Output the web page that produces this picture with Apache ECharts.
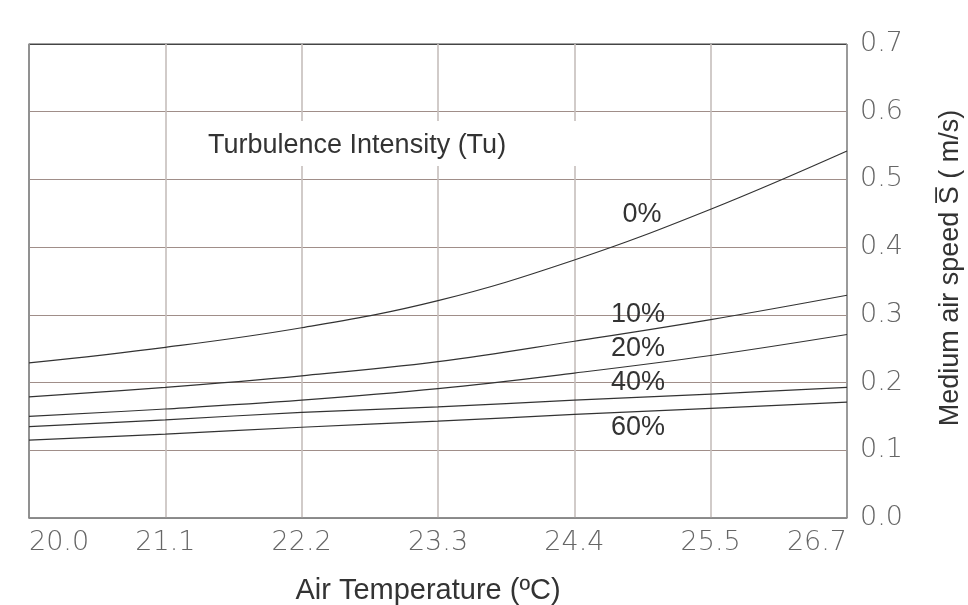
<!DOCTYPE html>
<html>
<head>
<meta charset="utf-8">
<style>html,body{margin:0;padding:0;background:#fff}#c{width:968px;height:605px}</style>
<script src="https://cdn.jsdelivr.net/npm/echarts@6/dist/echarts.min.js"></script>
</head>
<body>
<div id="c"></div>
<script>
// Tick labels for the temperature axis (°C), one per tick position 0..6
const tempLabels = ['20.0', '21.1', '22.2', '23.3', '24.4', '25.5', '26.7'];
// x positions (tick index) at which values were read
const xPos = [0, 1, 2, 3, 4, 5, 6];
// Medium air speed (m/s) per turbulence intensity
const tu0  = [0.229, 0.252, 0.281, 0.321, 0.381, 0.456, 0.542];
const tu10 = [0.179, 0.193, 0.210, 0.231, 0.261, 0.293, 0.329];
const tu20 = [0.150, 0.161, 0.174, 0.191, 0.214, 0.240, 0.271];
const tu40 = [0.135, 0.145, 0.156, 0.164, 0.174, 0.183, 0.193];
const tu60 = [0.115, 0.124, 0.134, 0.143, 0.153, 0.162, 0.171];
const seriesNames = ['0%', '10%', '20%', '40%', '60%'];
const yTicks = [0, 0.1, 0.2, 0.3, 0.4, 0.5, 0.6, 0.7];

const chart = echarts.init(document.getElementById('c'));
const allSeries = [tu0, tu10, tu20, tu40, tu60];
const labelFont = {fontFamily: 'DejaVu Sans', fontWeight: 200, fontSize: 27, color: '#666'};
const txt = {fontFamily: 'Liberation Sans', fontSize: 27, fill: '#333', verticalAlign: 'middle'};

chart.setOption({
  animation: false,
  grid: {left: 29, right: 121, top: 44, bottom: 87, show: true, borderColor: '#444', borderWidth: 1,
         outerBoundsMode: 'none', containLabel: false},
  xAxis: {
    type: 'value', min: 0, max: 6, interval: 1,
    name: 'Air Temperature (ºC)', nameLocation: 'middle', nameGap: 58,
    nameTextStyle: {fontFamily: 'Liberation Sans', fontSize: 29, color: '#333', padding: [0, 20, 0, 0]},
    axisLine: {show: true, lineStyle: {color: '#888', width: 1.5}},
    axisTick: {show: false},
    axisLabel: Object.assign({margin: 11, alignMinLabel: 'left', alignMaxLabel: 'right',
      formatter: v => tempLabels[Math.round(v)]}, labelFont),
    splitLine: {show: true, lineStyle: {color: ['#777', '#c6bebc', '#c6bebc', '#c6bebc', '#c6bebc', '#c6bebc', '#999'], width: 1.6}}
  },
  yAxis: {
    type: 'value', position: 'right', min: yTicks[0], max: yTicks[yTicks.length - 1], interval: 0.1,
    name: 'Medium air speed S\u0305 ( m/s)', nameLocation: 'middle', nameGap: 90, nameRotate: 90,
    nameTextStyle: {fontFamily: 'Liberation Sans', fontSize: 27, color: '#333', padding: [0, 0, 0, 26]},
    axisLine: {show: true, lineStyle: {color: '#999', width: 1.5}},
    axisTick: {show: false},
    axisLabel: Object.assign({margin: 13, formatter: v => v.toFixed(1)}, labelFont),
    splitLine: {show: true, lineStyle: {color: ['#888', '#a08e89', '#a08e89', '#a08e89', '#a08e89', '#a08e89', '#a08e89', '#444'], width: 1}}
  },
  series: allSeries.map((arr, i) => ({
    name: seriesNames[i], type: 'line', smooth: 0.4, symbol: 'none',
    lineStyle: {color: '#333', width: 1.2},
    data: arr.map((v, j) => [xPos[j], v])
  })),
  graphic: [
    {type: 'rect', z: 10, shape: {x: 185, y: 121, width: 410, height: 45}, style: {fill: '#fff'}},
    {type: 'text', z: 11, x: 208, y: 146, style: Object.assign({text: 'Turbulence Intensity (Tu)'}, txt)},
    {type: 'text', z: 11, x: 642, y: 215, style: Object.assign({text: '0%', align: 'center'}, txt)},
    {type: 'text', z: 11, x: 638, y: 315, style: Object.assign({text: '10%', align: 'center'}, txt)},
    {type: 'text', z: 11, x: 638, y: 349, style: Object.assign({text: '20%', align: 'center'}, txt)},
    {type: 'text', z: 11, x: 638, y: 383, style: Object.assign({text: '40%', align: 'center'}, txt)},
    {type: 'text', z: 11, x: 638, y: 428, style: Object.assign({text: '60%', align: 'center'}, txt)}
  ]
});
</script>
</body>
</html>
